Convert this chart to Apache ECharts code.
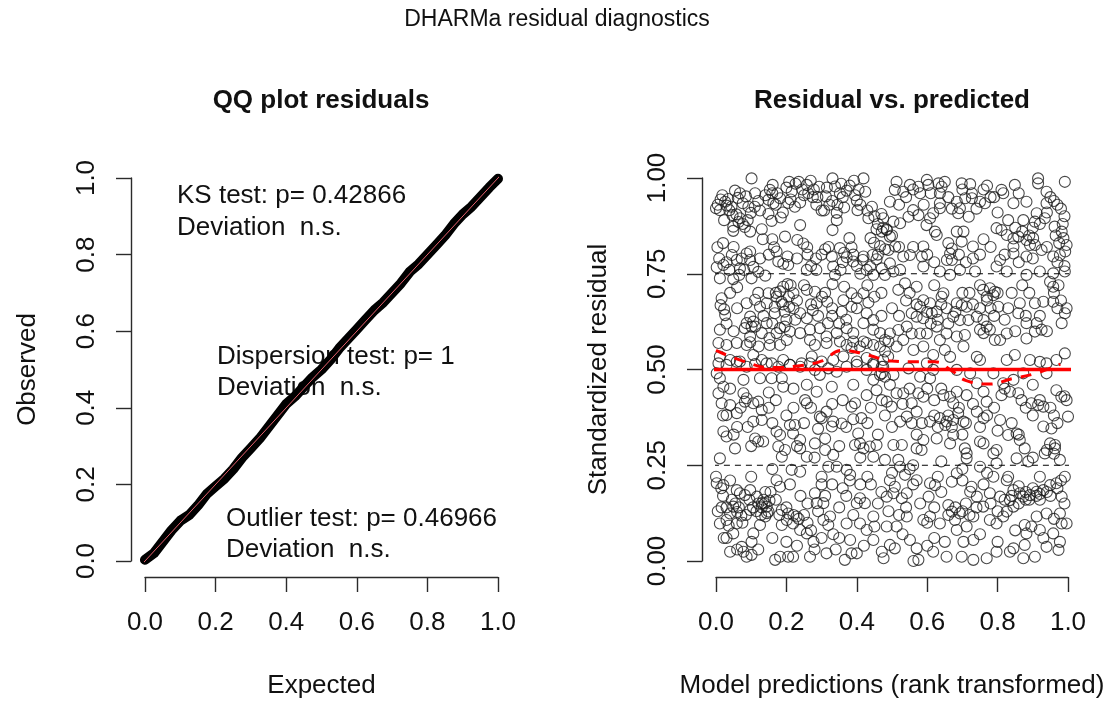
<!DOCTYPE html>
<html>
<head>
<meta charset="utf-8">
<title>DHARMa residual diagnostics</title>
<script src="https://cdn.jsdelivr.net/npm/echarts@6/dist/echarts.min.js"></script>
<style>
  html, body { margin: 0; padding: 0; background: #fff; }
  #chart { width: 1114px; height: 704px; }
</style>
</head>
<body>
<div id="chart"></div>
<script>
// ---- QQ plot: expected vs observed quantiles of the scaled residuals ----
const qqExpected = [0.000, 0.025, 0.050, 0.075, 0.100, 0.125, 0.150, 0.175, 0.200, 0.225,
                    0.250, 0.275, 0.300, 0.325, 0.350, 0.375, 0.400, 0.425, 0.450, 0.475,
                    0.500, 0.525, 0.550, 0.575, 0.600, 0.625, 0.650, 0.675, 0.700, 0.725,
                    0.750, 0.775, 0.800, 0.825, 0.850, 0.875, 0.900, 0.925, 0.950, 0.975, 1.000];
const qqObserved = [0.003, 0.020, 0.050, 0.080, 0.105, 0.120, 0.145, 0.175, 0.195, 0.215,
                    0.240, 0.270, 0.295, 0.320, 0.350, 0.380, 0.410, 0.430, 0.455, 0.480,
                    0.500, 0.525, 0.555, 0.580, 0.605, 0.630, 0.655, 0.675, 0.700, 0.725,
                    0.755, 0.775, 0.800, 0.825, 0.850, 0.880, 0.905, 0.925, 0.950, 0.975, 0.998];

// test results printed inside the QQ panel
const ksLabel = 'KS test: p= 0.42866';
const dispLabel = 'Dispersion test: p= 1';
const outlierLabel = 'Outlier test: p= 0.46966';
const deviationLabel = 'Deviation  n.s.';

// ---- Residual vs. predicted: [rank-transformed prediction, scaled residual] ----
const residualPoints = [
  [.101,.999],[.054,.967],[.068,.960],[.013,.944],[.000,.921],[.026,.938],[.038,.916],[.047,.903],[.023,.890],[.049,.873],
  [.049,.862],[.076,.934],[.092,.925],[.099,.909],[.068,.895],[.076,.880],[.097,.860],[.130,.866],[.133,.840],[.153,.969],
  [.161,.982],[.174,.960],[.182,.947],[.149,.943],[.208,.990],[.212,.944],[.224,.925],[.239,.936],[.258,.982],[.269,.993],
  [.278,.970],[.288,.950],[.293,.977],[.239,.877],[.231,.838],[.248,.829],[.259,.819],[.331,.999],[.338,.978],[.352,.960],
  [.371,.967],[.392,.993],[.419,.999],[.424,.964],[.400,.941],[.402,.916],[.433,.895],[.456,.866],[.471,.860],[.485,.866],
  [.439,.843],[.449,.831],[.466,.822],[.480,.814],[.307,.915],[.343,.909],[.364,.923],[.343,.890],[.331,.864],[.163,.934],
  [.149,.906],[.158,.888],[.184,.897],[.196,.847],[.165,.819],[.379,.843],[.385,.819],[.364,.805],[.371,.793],[.352,.817],
  [.111,.960],[.011,.916],[.030,.928],[.062,.948],[.085,.952],[.120,.940],[.200,.975],[.226,.985],[.250,.955],[.312,.952],
  [.322,.930],[.356,.985],[.405,.970],[.443,.925],[.470,.906],
  [.004,.819],[.009,.790],[.002,.767],[.021,.773],[.045,.799],[.059,.786],[.073,.790],[.087,.803],[.097,.786],[.106,.768],
  [.068,.764],[.038,.760],[.011,.738],[.049,.736],[.101,.738],[.066,.747],[.097,.808],[.177,.782],[.191,.776],[.205,.773],
  [.172,.808],[.203,.795],[.258,.760],[.284,.790],[.310,.814],[.329,.795],[.333,.769],[.338,.747],[.354,.760],[.331,.723],
  [.364,.716],[.390,.782],[.400,.770],[.417,.786],[.428,.760],[.438,.769],[.447,.747],[.471,.764],[.419,.795],[.445,.799],
  [.456,.788],[.030,.780],[.120,.755],[.140,.745],[.300,.800],[.285,.760],
  [.016,.686],[.013,.668],[.023,.657],[.026,.642],[.087,.673],[.111,.682],[.125,.664],[.097,.638],[.087,.621],[.106,.625],
  [.144,.673],[.149,.699],[.172,.690],[.182,.704],[.191,.716],[.203,.723],[.212,.720],[.220,.699],[.207,.690],[.186,.677],
  [.167,.664],[.167,.647],[.195,.651],[.208,.664],[.239,.647],[.258,.634],[.275,.655],[.286,.673],[.301,.690],[.316,.677],
  [.281,.703],[.258,.708],[.362,.681],[.385,.699],[.400,.686],[.419,.699],[.433,.675],[.385,.664],[.357,.651],[.428,.647],
  [.447,.629],[.419,.621],[.144,.621],[.111,.612],[.082,.608],[.097,.586],[.087,.564],[.101,.612],[.130,.595],[.152,.582],
  [.172,.595],[.182,.608],[.195,.612],[.210,.599],[.201,.577],[.182,.564],[.239,.595],[.267,.604],[.295,.608],[.318,.621],
  [.314,.586],[.343,.595],[.371,.608],[.390,.595],[.390,.573],[.419,.573],[.447,.604],[.466,.595],[.480,.577],[.011,.604],
  [.040,.700],[.060,.715],[.225,.630],[.330,.640],[.470,.640],
  [.007,.569],[.030,.564],[.059,.569],[.097,.571],[.121,.560],[.153,.564],[.267,.577],[.281,.564],[.314,.569],[.352,.573],
  [.371,.564],[.385,.556],[.409,.560],[.428,.569],[.447,.564],[.466,.560],[.480,.547],[.489,.534],[.011,.534],[.040,.525],
  [.068,.521],[.106,.538],[.130,.525],[.158,.516],[.191,.525],[.210,.512],[.243,.516],[.272,.534],[.300,.521],[.333,.525],
  [.362,.534],[.400,.521],[.428,.530],[.447,.516],[.471,.507],
  [.007,.516],[.030,.512],[.059,.520],[.087,.507],[.111,.514],[.144,.516],[.177,.507],[.210,.512],[.239,.507],[.267,.516],
  [.281,.499],[.295,.486],[.319,.503],[.343,.494],[.371,.507],[.400,.512],[.428,.499],[.447,.512],[.471,.490],[.480,.481],
  [.002,.490],[.011,.477],[.021,.455],[.007,.438],[.016,.412],[.040,.407],[.030,.381],[.059,.386],[.078,.438],[.087,.425],
  [.082,.416],[.106,.412],[.120,.416],[.130,.394],[.106,.364],[.130,.368],[.021,.338],[.030,.325],[.054,.294],[.011,.268],
  [.111,.320],[.120,.312],[.134,.312],[.078,.473],[.125,.477],[.158,.477],[.187,.477],[.191,.455],[.172,.338],[.182,.329],
  [.177,.299],[.196,.290],[.187,.272],[.210,.355],[.224,.355],[.219,.333],[.239,.316],[.239,.294],[.258,.272],[.215,.238],
  [.239,.233],[.258,.460],[.253,.420],[.258,.412],[.286,.442],[.314,.390],[.295,.377],[.300,.373],[.333,.364],[.357,.359],
  [.329,.351],[.290,.345],[.281,.307],[.310,.290],[.333,.277],[.343,.246],[.319,.246],[.371,.238],[.381,.225],[.395,.303],
  [.409,.307],[.419,.294],[.437,.299],[.456,.303],[.447,.272],[.404,.333],[.413,.373],[.395,.412],[.385,.403],[.428,.433],
  [.456,.446],[.471,.420],[.447,.473],[.390,.460],[.329,.455],[.466,.486],[.060,.350],[.150,.440],[.220,.400],[.360,.420],
  [.002,.203],[.021,.198],[.000,.220],[.059,.185],[.068,.177],[.082,.172],[.097,.185],[.116,.168],[.049,.142],[.040,.124],
  [.030,.107],[.059,.098],[.049,.072],[.011,.098],[.097,.133],[.130,.151],[.144,.142],[.149,.129],[.140,.116],[.125,.094],
  [.106,.072],[.101,.050],[.078,.024],[.087,.011],[.040,.024],[.168,.003],[.182,.011],[.205,.011],[.219,.011],[.187,.094],
  [.201,.107],[.219,.098],[.229,.116],[.239,.081],[.258,.072],[.277,.050],[.281,.177],[.286,.151],[.305,.151],[.305,.107],
  [.324,.116],[.319,.094],[.333,.070],[.314,.020],[.371,.098],[.381,.055],[.409,.098],[.428,.081],[.447,.055],[.471,.024],
  [.476,.007],[.366,.003],[.409,.164],[.400,.151],[.423,.151],[.447,.116],[.385,.020],[.267,.011],[.187,.133],[.205,.124],
  [.182,.194],[.172,.211],[.073,.037],[.101,.016],[.130,.140],[.138,.150],[.145,.125],[.128,.120],[.152,.158],[.060,.128],
  [.072,.118],[.036,.092],[.022,.060],[.016,.140],[.240,.170],[.260,.150],[.300,.200],[.340,.030],[.230,.040],[.160,.060],
  [.360,.190],[.440,.200],[.470,.180],[.420,.040],[.300,.060],
  [.513,.990],[.508,.969],[.532,.964],[.551,.982],[.575,.977],[.599,.995],[.603,.982],[.632,.986],[.641,.977],[.636,.960],
  [.580,.960],[.698,.986],[.722,.984],[.727,.960],[.684,.938],[.693,.921],[.708,.947],[.727,.947],[.750,.938],[.764,.934],
  [.688,.908],[.718,.899],[.636,.934],[.636,.921],[.617,.908],[.608,.895],[.598,.877],[.575,.903],[.560,.916],[.547,.899],
  [.523,.882],[.504,.886],[.494,.938],[.475,.895],[.485,.864],[.494,.847],[.509,.821],[.490,.812],[.532,.795],[.551,.799],
  [.589,.821],[.585,.795],[.622,.860],[.627,.851],[.665,.803],[.656,.786],[.670,.816],[.698,.834],[.730,.821],[.730,.790],
  [.684,.860],[.703,.860],[.811,.969],[.816,.960],[.845,.934],[.849,.982],[.882,.938],[.915,.999],[.915,.986],[.939,.964],
  [.991,.990],[.939,.934],[.934,.895],[.911,.908],[.906,.886],[.873,.890],[.797,.869],[.811,.864],[.826,.851],[.845,.842],
  [.859,.847],[.845,.821],[.845,.803],[.882,.838],[.892,.825],[.901,.843],[.906,.825],[.925,.812],[.962,.873],[.982,.860],
  [.987,.843],[.996,.825],[.992,.808],[.977,.799],[.958,.795],[.882,.795],[.807,.786],[.770,.980],[.780,.950],[.860,.960],
  [.960,.940],[.985,.880],
  [.494,.777],[.480,.747],[.504,.756],[.523,.760],[.589,.769],[.636,.756],[.665,.747],[.670,.786],[.693,.760],[.736,.756],
  [.797,.769],[.826,.756],[.882,.747],[.920,.756],[.958,.751],[.991,.756],[.949,.729],[.973,.720],[.958,.716],[.750,.720],
  [.759,.708],[.778,.712],[.792,.703],[.769,.690],[.788,.694],[.646,.699],[.641,.690],[.537,.725],[.518,.708],[.570,.716],
  [.589,.681],[.608,.673],[.580,.664],[.556,.647],[.570,.638],[.589,.634],[.613,.647],[.627,.651],[.655,.660],[.684,.673],
  [.698,.668],[.712,.664],[.674,.638],[.693,.629],[.717,.629],[.741,.638],[.760,.629],[.769,.612],[.750,.604],[.760,.595],
  [.778,.604],[.802,.664],[.859,.647],[.863,.673],[.882,.621],[.906,.673],[.930,.677],[.958,.677],[.996,.660],[.991,.647],
  [.982,.621],[.911,.621],[.925,.604],[.906,.599],[.882,.581],[.826,.594],[.807,.577],[.792,.577],[.707,.590],[.684,.586],
  [.655,.594],[.636,.577],[.627,.612],[.599,.594],[.580,.594],[.556,.594],[.542,.612],[.518,.603],[.494,.594],[.490,.573],
  [.513,.560],[.532,.577],[.561,.551],[.589,.560],[.617,.538],[.650,.551],[.665,.533],[.703,.560],[.741,.533],[.750,.525],
  [.826,.525],[.849,.538],[.892,.525],[.920,.520],[.939,.516],[.991,.542],[.967,.525],[.475,.525],[.599,.516],[.840,.700],
  [.870,.720],[.620,.720],[.540,.680],[.960,.700],[.820,.630],
  [.475,.507],[.504,.486],[.494,.460],[.513,.438],[.485,.416],[.499,.403],[.523,.364],[.542,.377],[.570,.390],[.556,.412],
  [.575,.438],[.589,.429],[.532,.438],[.585,.360],[.556,.360],[.608,.364],[.636,.373],[.655,.364],[.651,.355],[.674,.368],
  [.688,.386],[.703,.364],[.674,.412],[.665,.429],[.646,.433],[.684,.442],[.712,.433],[.741,.464],[.760,.442],[.769,.416],
  [.741,.390],[.760,.373],[.807,.368],[.811,.433],[.835,.442],[.859,.438],[.868,.420],[.896,.412],[.915,.407],[.930,.403],
  [.981,.429],[.996,.420],[1.00,.377],[.967,.446],[.939,.490],[.873,.490],[.845,.473],[.816,.464],[.788,.490],[.722,.490],
  [.684,.499],[.617,.499],[.608,.477],[.580,.481],[.547,.503],[.900,.460],[.960,.380],[.620,.420],[.700,.330],
  [.504,.303],[.528,.303],[.480,.264],[.523,.246],[.537,.225],[.494,.211],[.508,.194],[.518,.264],[.570,.294],[.584,.290],
  [.589,.316],[.627,.320],[.665,.307],[.674,.329],[.707,.294],[.712,.281],[.712,.268],[.750,.312],[.760,.307],[.788,.281],
  [.797,.290],[.797,.255],[.750,.246],[.684,.229],[.670,.207],[.726,.194],[.722,.181],[.741,.168],[.608,.203],[.622,.198],
  [.604,.168],[.570,.211],[.542,.177],[.528,.164],[.504,.177],[.485,.168],[.830,.329],[.854,.333],[.863,.316],[.877,.294],
  [.854,.268],[.887,.260],[.930,.351],[.953,.346],[.934,.281],[.949,.307],[.963,.294],[.977,.264],[.963,.303],[.826,.211],
  [.845,.185],[.863,.177],[.873,.168],[.892,.172],[.911,.181],[.930,.185],[.949,.198],[.967,.203],[.991,.220],[.982,.168],
  [.788,.220],[.778,.177],[.807,.168],[.759,.142],[.778,.107],[.797,.098],[.816,.116],[.731,.116],[.712,.090],[.731,.055],
  [.703,.050],[.684,.081],[.660,.146],[.670,.129],[.693,.124],[.679,.107],[.636,.098],[.608,.116],[.589,.107],[.542,.116],
  [.513,.090],[.485,.090],[.494,.042],[.508,.033],[.551,.055],[.570,.033],[.575,.003],[.561,.000],[.617,.024],[.655,.011],
  [.698,.011],[.731,.003],[.769,.007],[.797,.024],[.835,.024],[.845,.033],[.877,.042],[.906,.011],[.873,.007],[.939,.037],
  [.973,.029],[.977,.050],[.920,.081],[.896,.090],[.877,.094],[.882,.072],[.958,.072],[.982,.098],[.939,.124],[.977,.124],
  [.911,.116],[.845,.142],[.826,.129],[.835,.159],[.996,.098],[.900,.190],[.920,.175],[.880,.160],[.860,.195],[.640,.260],
  [.560,.250],[.620,.060],[.700,.240],
  // upper band, second pass
  [.005,.930],[.018,.955],[.035,.945],[.044,.925],[.058,.905],[.064,.885],[.082,.872],[.090,.890],[.110,.925],[.125,.915],
  [.140,.955],[.160,.960],[.170,.930],[.190,.910],[.205,.935],[.215,.965],[.235,.990],[.245,.970],[.262,.960],[.275,.950],
  [.285,.930],[.300,.915],[.315,.975],[.330,.940],[.345,.930],[.360,.950],[.380,.980],[.395,.955],[.410,.930],[.430,.915],
  [.450,.900],[.460,.880],[.475,.870],[.500,.850],[.520,.930],[.540,.950],[.560,.970],[.590,.930],[.610,.960],[.650,.990],
  [.660,.950],[.670,.920],[.700,.970],[.740,.920],[.760,.970],[.790,.950],[.800,.910],[.830,.890],[.850,.870],[.870,.860],
  [.890,.850],[.900,.870],[.920,.880],[.940,.910],[.950,.950],[.970,.930],[.980,.920],[.990,.900],[.965,.850],[.975,.830],
  [.020,.830],[.050,.820],[.080,.760],[.125,.790],[.150,.800],[.160,.840],[.230,.790],[.260,.800],[.270,.770],[.320,.820],
  [.360,.780],[.390,.800],[.410,.750],[.460,.800],[.520,.820],[.560,.820],[.600,.800],[.620,.780],[.660,.830],[.690,.800],
  [.710,.780],[.750,.800],[.760,.840],[.780,.820],[.820,.800],[.860,.780],[.900,.790],[.940,.820],[.970,.780],[.990,.770],
  // middle band, second pass
  [.030,.620],[.050,.600],[.060,.660],[.120,.700],[.135,.640],[.160,.620],[.170,.700],[.190,.670],[.200,.630],[.220,.660],
  [.230,.680],[.250,.720],[.270,.670],[.290,.640],[.310,.700],[.330,.660],[.350,.620],[.370,.630],[.400,.660],[.430,.720],
  [.450,.690],[.470,.700],[.500,.660],[.520,.640],[.550,.700],[.570,.670],[.600,.650],[.610,.620],[.630,.630],[.640,.670],
  [.660,.620],[.680,.650],[.700,.700],[.720,.700],[.730,.670],[.750,.660],[.770,.680],[.780,.660],[.790,.640],[.800,.700],
  [.830,.660],[.850,.600],[.880,.640],[.890,.700],[.920,.640],[.940,.600],[.970,.660],[.980,.680],
  [.020,.380],[.040,.450],[.050,.330],[.070,.400],[.090,.350],[.100,.300],[.150,.400],[.160,.360],[.170,.420],[.200,.380],
  [.220,.450],[.230,.300],[.250,.360],[.270,.400],[.280,.270],[.310,.320],[.330,.410],[.350,.300],[.370,.350],[.390,.370],
  [.410,.270],[.430,.360],[.440,.400],[.460,.330],[.480,.380],[.500,.350],[.530,.410],[.550,.450],[.570,.330],[.600,.450],
  [.620,.380],[.630,.350],[.640,.450],[.660,.380],[.670,.350],[.690,.400],[.710,.360],[.730,.410],[.750,.350],[.770,.380],
  [.790,.400],[.800,.340],[.820,.450],[.840,.360],[.860,.330],[.880,.400],[.900,.380],[.920,.420],[.950,.400],[.970,.360],
  [.990,.430],[.940,.290],[.960,.280],[.900,.270],
  // lower band, second pass
  [.005,.130],[.020,.170],[.030,.140],[.045,.160],[.055,.150],[.065,.140],[.075,.100],[.085,.120],[.095,.160],[.105,.140],
  [.115,.130],[.120,.150],[.135,.160],[.140,.180],[.155,.180],[.170,.160],[.180,.120],[.200,.140],[.210,.200],[.220,.120],
  [.235,.110],[.250,.120],[.260,.100],[.270,.080],[.290,.130],[.310,.170],[.330,.200],[.350,.140],[.370,.170],[.390,.120],
  [.410,.200],[.430,.220],[.460,.150],[.490,.130],[.520,.120],[.540,.140],[.560,.200],[.580,.150],[.600,.100],[.620,.140],
  [.640,.180],[.660,.120],[.680,.140],[.700,.130],[.710,.150],[.720,.120],[.740,.140],[.760,.200],[.780,.150],[.800,.130],
  [.820,.160],[.840,.170],[.860,.150],[.880,.180],[.890,.160],[.910,.170],[.920,.160],[.940,.180],[.950,.170],[.970,.190],
  [.980,.210],[.990,.150],[.960,.110],[.930,.060],[.850,.080],[.800,.050],[.750,.070],[.650,.050],[.600,.040],[.530,.070],
  [.450,.090],[.400,.020],[.350,.060],[.280,.030],[.200,.050],[.120,.030],[.060,.030],[.030,.060],[.015,.190],[.040,.210],
  [.100,.220],[.160,.240],[.300,.220],[.380,.210],[.500,.230],[.550,.240],[.630,.220],[.700,.210],[.770,.230],[.830,.220],
  [.920,.220]
];

// fitted median of the residuals along the prediction axis
const quantileX = [0.000, 0.077, 0.158, 0.238, 0.299, 0.359, 0.430, 0.500, 0.560, 0.621, 0.671, 0.711, 0.772, 0.842, 0.912, 0.978];
const quantileY = [0.550, 0.522, 0.505, 0.510, 0.522, 0.550, 0.538, 0.522, 0.520, 0.520, 0.496, 0.471, 0.462, 0.476, 0.491, 0.514];

// reference quantile levels
const dashedLevels = [0.25, 0.75];
const medianLevel = 0.5;

// R-style axes: tick range is 0..1, the plotting region runs 4% past it on each side
const axisPad = 0.04;
const regionLo = 0 - axisPad, regionHi = 1 + axisPad;

const FONT = '"Liberation Sans", Arial, Helvetica, sans-serif';
const INK = '#111';
const AXIS_INK = '#2b2b2b';

function makeXAxis(gridIndex, name) {
  return {
    type: 'value', gridIndex, min: 0, max: 1, interval: 0.2, offset: 16,
    name, nameLocation: 'middle', nameGap: 96,
    nameTextStyle: { fontSize: 26, fontFamily: FONT, color: INK },
    axisLine: { show: true, onZero: false, lineStyle: { color: AXIS_INK, width: 1.4 } },
    axisTick: { show: true, length: 15, lineStyle: { color: AXIS_INK, width: 1.4 } },
    axisLabel: { show: true, margin: 33, fontSize: 26, fontFamily: FONT, color: INK,
                 showMinLabel: true, showMaxLabel: true, formatter: v => v.toFixed(1) },
    splitLine: { show: false }
  };
}
function makeYAxis(gridIndex, name, interval, digits) {
  return {
    type: 'value', gridIndex, min: 0, max: 1, interval, offset: 14,
    name, nameLocation: 'middle', nameGap: 90, nameRotate: 90,
    nameTextStyle: { fontSize: 26, fontFamily: FONT, color: INK },
    axisLine: { show: true, onZero: false, lineStyle: { color: AXIS_INK, width: 1.4 } },
    axisTick: { show: true, length: 15, lineStyle: { color: AXIS_INK, width: 1.4 } },
    axisLabel: { show: true, rotate: 90, margin: 31, fontSize: 26, fontFamily: FONT, color: INK,
                 showMinLabel: true, showMaxLabel: true, formatter: v => v.toFixed(digits) },
    splitLine: { show: false }
  };
}

function textItem(text, x, y, styleExtra) {
  return {
    type: 'text', x, y, z: 1, silent: true,
    style: Object.assign({ text, fill: INK, fontSize: 26, fontFamily: FONT, verticalAlign: 'middle', align: 'left' },
                         styleExtra || {})
  };
}

const qqData = qqExpected.map((e, i) => [e, qqObserved[i]]);
const medianCurve = quantileX.map((x, i) => [x, quantileY[i]]);
const hLine = level => [[regionLo, level], [regionHi, level]];

const option = {
  animation: false,
  backgroundColor: '#fff',
  grid: [
    { left: 145, top: 178, width: 353, height: 383, containLabel: false },
    { left: 716, top: 178, width: 352, height: 383, containLabel: false }
  ],
  xAxis: [
    makeXAxis(0, 'Expected'),
    makeXAxis(1, 'Model predictions (rank transformed)')
  ],
  yAxis: [
    makeYAxis(0, 'Observed', 0.2, 1),
    makeYAxis(1, 'Standardized residual', 0.25, 2)
  ],
  graphic: [
    textItem('DHARMa residual diagnostics', 557, 20, { align: 'center', fontSize: 23 }),
    textItem('QQ plot residuals', 321, 101, { align: 'center', fontWeight: 'bold' }),
    textItem('Residual vs. predicted', 892, 101, { align: 'center', fontWeight: 'bold' }),
    textItem(ksLabel, 177, 196),
    textItem(deviationLabel, 177, 228),
    textItem(dispLabel, 217, 357),
    textItem(deviationLabel, 217, 388),
    textItem(outlierLabel, 226, 519),
    textItem(deviationLabel, 226, 550)
  ],
  series: [
    {
      // QQ points drawn as the dense band they form
      type: 'line', xAxisIndex: 0, yAxisIndex: 0, data: qqData, z: 3,
      symbol: 'none', smooth: false,
      lineStyle: { color: '#000', width: 10, cap: 'round', join: 'round' }
    },
    {
      // 1:1 reference line across the whole plotting region
      type: 'line', xAxisIndex: 0, yAxisIndex: 0, data: [[regionLo, regionLo], [regionHi, regionHi]],
      symbol: 'none', clip: false, z: 4,
      lineStyle: { color: '#e4606d', width: 1 }
    },
    {
      type: 'scatter', xAxisIndex: 1, yAxisIndex: 1, data: residualPoints, z: 2,
      symbol: 'circle', symbolSize: 11,
      itemStyle: { color: 'rgba(0,0,0,0)', borderColor: '#1c1c1c', borderWidth: 1.1 }
    },
    ...dashedLevels.map(level => ({
      type: 'line', xAxisIndex: 1, yAxisIndex: 1, data: hLine(level),
      symbol: 'none', clip: false, z: 3,
      lineStyle: { color: '#000', width: 1, type: [6, 5] }
    })),
    {
      type: 'line', xAxisIndex: 1, yAxisIndex: 1, data: hLine(medianLevel),
      symbol: 'none', clip: false, z: 4,
      lineStyle: { color: '#ff0000', width: 3.5 }
    },
    {
      type: 'line', xAxisIndex: 1, yAxisIndex: 1, data: medianCurve,
      symbol: 'none', smooth: 0.5, z: 5,
      lineStyle: { color: '#ff0000', width: 3, type: [11, 9] }
    }
  ]
};

const chart = echarts.init(document.getElementById('chart'), null, { renderer: 'canvas' });
chart.setOption(option);
</script>
</body>
</html>
